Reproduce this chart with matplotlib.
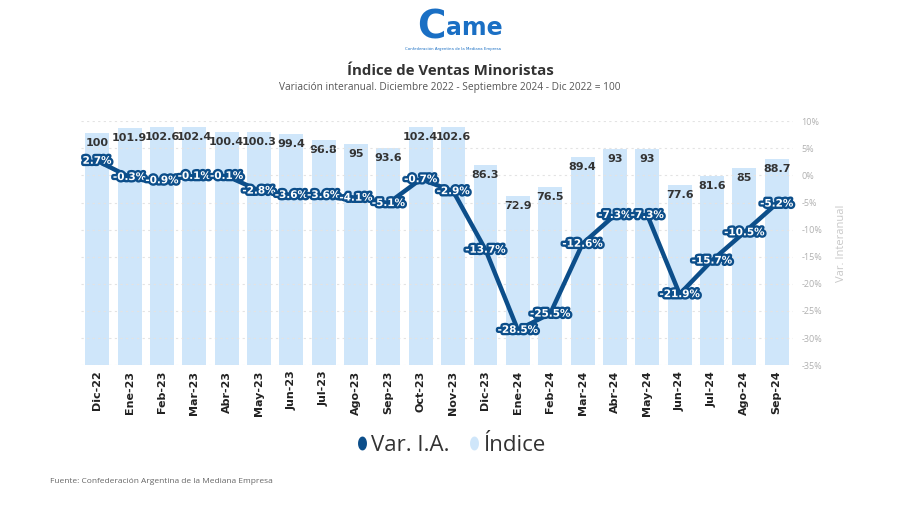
import matplotlib
matplotlib.use("Agg")
import matplotlib.pyplot as plt
import matplotlib.patheffects as pe
from matplotlib.lines import Line2D
from matplotlib.path import Path
import numpy as np

months = ["Dic-22", "Ene-23", "Feb-23", "Mar-23", "Abr-23", "May-23", "Jun-23", "Jul-23",
          "Ago-23", "Sep-23", "Oct-23", "Nov-23", "Dic-23", "Ene-24", "Feb-24", "Mar-24",
          "Abr-24", "May-24", "Jun-24", "Jul-24", "Ago-24", "Sep-24"]
indice = [100, 101.9, 102.6, 102.4, 100.4, 100.3, 99.4, 96.8, 95, 93.6, 102.4, 102.6,
          86.3, 72.9, 76.5, 89.4, 93, 93, 77.6, 81.6, 85, 88.7]
var_ia = [2.7, -0.3, -0.9, -0.1, -0.1, -2.8, -3.6, -3.6, -4.1, -5.1, -0.7, -2.9,
          -13.7, -28.5, -25.5, -12.6, -7.3, -7.3, -21.9, -15.7, -10.5, -5.2]
right_ticks = [10, 5, 0, -5, -10, -15, -20, -25, -30, -35]

BAR = "#cfe6fa"
LINE = "#0c4e8a"
LOGO = "#1a6fc4"

fig = plt.figure(figsize=(9, 5.05), dpi=100)
ax = fig.add_axes([0.09, 0.277, 0.791, 0.483])
ax2 = ax.twinx()

x = np.arange(len(months))
ax.bar(x, indice, width=0.74, color=BAR, zorder=1)
ax.set_ylim(0, 105)
ax.set_xlim(-0.5, len(months) - 0.5)
ax.set_yticks([])
for s in ax.spines.values():
    s.set_visible(False)
for s in ax2.spines.values():
    s.set_visible(False)

for xi, v in zip(x, indice):
    ax.text(xi, v - 4.3, f"{v:g}", ha="center", va="center", fontsize=8,
            fontweight="bold", color="#333333", family="DejaVu Sans", zorder=3)

ax.set_xticks(x)
ax.set_xticklabels(months, rotation=90, fontsize=8, fontweight="bold", color="#222222")
ax.tick_params(axis="x", length=0, pad=4)

ax2.set_ylim(-35, 10)
ax2.set_yticks(right_ticks)
ax2.set_yticklabels([f"{t}%" for t in right_ticks], fontsize=6.5, color="#b0b0b0",
                    family="Open Sans")
ax2.tick_params(axis="y", length=0, pad=6)
ax2.grid(axis="y", color="#e3e3e3", linestyle=(0, (2, 3)), linewidth=0.8)
ax2.set_axisbelow(True)
ax2.set_ylabel("Var. Interanual", fontsize=8, color="#c8c8c8", family="Open Sans",
               labelpad=10)

ax2.plot(x, var_ia, color=LINE, linewidth=3.2, zorder=4, solid_joinstyle="round")
for xi, v in zip(x, var_ia):
    t = ax2.text(xi, v, f"{v:.1f}%", ha="center", va="center", fontsize=7.5,
                 fontweight="bold", color="white", family="DejaVu Sans", zorder=6)
    t.set_path_effects([pe.Stroke(linewidth=3.4, foreground=LINE), pe.Normal()])

# Logo
fig.text(0.479, 0.945, "C", fontsize=28, fontweight="bold", color=LOGO,
         ha="center", va="center", family="DejaVu Sans")
fig.text(0.496, 0.945, "ame", fontsize=17, fontweight="bold", color=LOGO,
         ha="left", va="center", family="DejaVu Sans")
fig.text(0.503, 0.903, "Confederación Argentina de la Mediana Empresa", fontsize=2.8,
         color=LOGO, ha="center", va="center")

fig.text(0.5, 0.86, "Índice de Ventas Minoristas", fontsize=10.8, fontweight="bold",
         color="#333333", ha="center", va="center", family="Open Sans")
fig.text(0.5, 0.826, "Variación interanual. Diciembre 2022 - Septiembre 2024 - Dic 2022 = 100",
         fontsize=7.3, color="#555555", ha="center", va="center", family="Open Sans")

t = np.linspace(0, 2 * np.pi, 40)
oval = Path(np.column_stack([0.3 * np.cos(t), 0.5 * np.sin(t)]), closed=True)
handles = [Line2D([0], [0], marker=oval, linestyle="none", markersize=9,
                  markerfacecolor=LINE, markeredgecolor=LINE),
           Line2D([0], [0], marker=oval, linestyle="none", markersize=9,
                  markerfacecolor=BAR, markeredgecolor=BAR)]
fig.legend(handles, ["Var. I.A.", "Índice"], loc="center", bbox_to_anchor=(0.497, 0.118),
           ncol=2, frameon=False, handletextpad=-0.2, columnspacing=0.5, handlelength=1.2,
           prop={"family": "Open Sans", "size": 16}, labelcolor="#333333")

fig.text(0.056, 0.047, "Fuente: Confederación Argentina de la Mediana Empresa", fontsize=6,
         color="#666666", ha="left", va="center", family="Open Sans")

fig.savefig("out.png", dpi=100)
